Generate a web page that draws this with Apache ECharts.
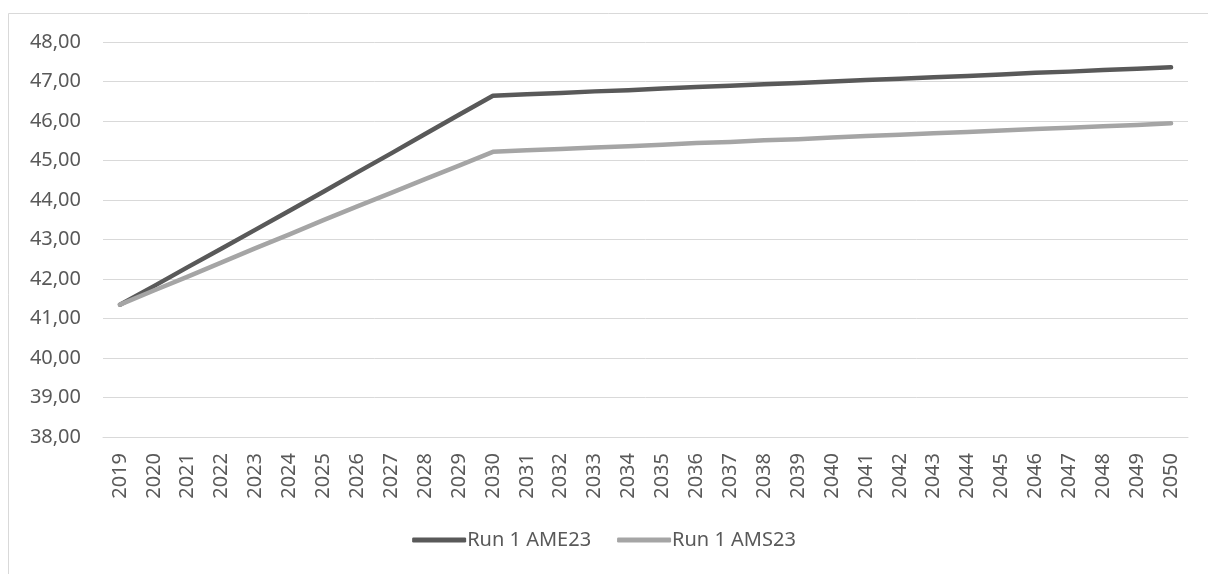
<!DOCTYPE html>
<html><head><meta charset="utf-8">
<script src="https://cdn.jsdelivr.net/npm/echarts@6/dist/echarts.min.js"></script>
<style>html,body{margin:0;padding:0;background:#fff}#c{width:1208px;height:574px}</style>
</head><body><div id="c"></div>
<script>
const years = ['2019','2020','2021','2022','2023','2024','2025','2026','2027','2028','2029','2030','2031','2032','2033','2034','2035','2036','2037','2038','2039','2040','2041','2042','2043','2044','2045','2046','2047','2048','2049','2050'];
const seriesNames = ['Run 1 AME23','Run 1 AMS23'];
const ame23 = [41.35,41.82,42.30,42.77,43.25,43.73,44.21,44.70,45.18,45.67,46.16,46.64,46.68,46.71,46.75,46.78,46.82,46.86,46.89,46.93,46.96,47.00,47.04,47.07,47.11,47.14,47.18,47.22,47.25,47.29,47.32,47.36];
const ams23 = [41.35,41.71,42.06,42.42,42.78,43.13,43.49,43.84,44.18,44.53,44.87,45.22,45.26,45.29,45.33,45.36,45.40,45.44,45.47,45.51,45.54,45.58,45.62,45.65,45.69,45.72,45.76,45.80,45.83,45.87,45.90,45.94];
const yMin = 38, yMax = 48, yStep = 1;

const font = '"Noto Sans", "Open Sans", sans-serif';
const chart = echarts.init(document.getElementById('c'), null, {renderer:'canvas'});
chart.setOption({
  animation:false,
  backgroundColor:'#fff',
  graphic:[{type:'rect', shape:{x:8.5,y:13.5,width:1220,height:600}, style:{fill:'none', stroke:'#d9d9d9', lineWidth:1}, silent:true}],
  grid:{left:103,right:20,top:42,bottom:137,containLabel:false},
  legend:{
    bottom:19, left:'center',
    data:seriesNames,
    icon:'roundRect', itemWidth:54, itemHeight:5, itemGap:26,
    textStyle:{color:'#595959', fontSize:20, fontFamily:font, padding:[0,0,0,-4]}
  },
  xAxis:{
    type:'category', data:years, boundaryGap:true,
    axisLine:{show:true, lineStyle:{color:'#d9d9d9', width:1}},
    axisTick:{show:false},
    axisLabel:{rotate:90, color:'#595959', fontSize:20, fontFamily:font, margin:16, interval:0}
  },
  yAxis:{
    type:'value', min:yMin, max:yMax, interval:yStep,
    axisLine:{show:false}, axisTick:{show:false},
    splitLine:{lineStyle:{color:'#d9d9d9', width:1}},
    axisLabel:{color:'#595959', fontSize:20, fontFamily:font, margin:22,
      formatter:v=>v.toFixed(2).replace('.',',')}
  },
  series:[
    {name:seriesNames[0], type:'line', data:ame23, showSymbol:false, symbol:'none',
      lineStyle:{color:'#595959', width:4.5, cap:'round', join:'round'}, itemStyle:{color:'#595959'}},
    {name:seriesNames[1], type:'line', data:ams23, showSymbol:false, symbol:'none',
      lineStyle:{color:'#a5a5a5', width:4.5, cap:'round', join:'round'}, itemStyle:{color:'#a5a5a5'}}
  ]
});
</script></body></html>
